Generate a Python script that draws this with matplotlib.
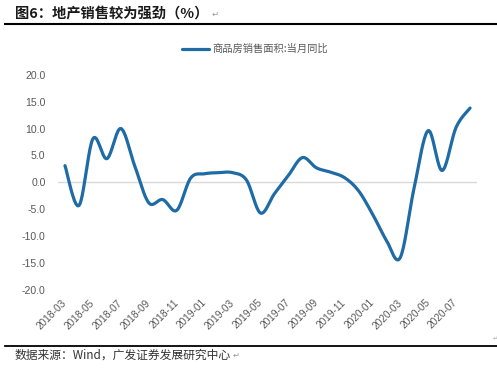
import numpy as np
import pandas as pd
import matplotlib
matplotlib.use("Agg")
import matplotlib.pyplot as plt
from matplotlib.lines import Line2D

plt.rcParams['font.family'] = ['Liberation Sans', 'Noto Sans CJK SC', 'DejaVu Sans']

# ---- data ----
months = [p.strftime('%Y-%m') for p in pd.period_range('2018-03', '2020-08', freq='M')]
values = [3.1, -4.3, 8.1, 4.4, 10.0, 3.0, -3.8, -3.2, -5.2, 0.8,
          1.6, 1.8, 1.8, 0.4, -5.7, -2.1, 1.3, 4.6, 2.7, 1.9, 0.9, -1.5,
          -5.8, -10.7, -14.0, -1.0, 9.6, 2.2, 10.2, 13.8]
series_name = '商品房销售面积:当月同比'
title = '图6：地产销售较为强劲（%）'
source = '数据来源：Wind，广发证券发展研究中心'
yticks = [-20, -15, -10, -5, 0, 5, 10, 15, 20]

W, H = 497, 371
fig = plt.figure(figsize=(W / 100, H / 100), dpi=100)
ax = fig.add_axes([58 / W, 1 - 290 / H, (477 - 58) / W, (290 - 74.7) / H])

# Excel-like smoothed line (Catmull-Rom Bezier through the data points)
x = np.arange(len(values), dtype=float)
y = np.array(values, dtype=float)
xs, ys = [], []
n = len(x)
t = np.linspace(0, 1, 20)
for i in range(n - 1):
    p0 = np.array([x[max(i - 1, 0)], y[max(i - 1, 0)]])
    p1 = np.array([x[i], y[i]])
    p2 = np.array([x[i + 1], y[i + 1]])
    p3 = np.array([x[min(i + 2, n - 1)], y[min(i + 2, n - 1)]])
    b1 = p1 + (p2 - p0) / 6
    b2 = p2 - (p3 - p1) / 6
    pts = ((1 - t) ** 3)[:, None] * p1 + (3 * (1 - t) ** 2 * t)[:, None] * b1 \
        + (3 * (1 - t) * t ** 2)[:, None] * b2 + (t ** 3)[:, None] * p2
    xs.extend(pts[:, 0]); ys.extend(pts[:, 1])

ax.axhline(0, color='#D9D9D9', lw=1.0, zorder=1)
ax.plot(xs, ys, color='#1F6BA6', lw=2.3, solid_capstyle='round', label=series_name, zorder=3)

ax.set_xlim(-0.5, len(values) - 0.5)
ax.set_ylim(-20, 20)
ax.set_yticks(yticks)
ax.set_yticklabels([f'{v:.1f}' for v in yticks], fontsize=7.6, color='#595959')
tick_idx = list(range(0, len(months), 2))
ax.set_xticks(tick_idx)
ax.set_xticklabels([months[i] for i in tick_idx], fontsize=7.3, color='#595959',
                   rotation=45, ha='right', va='center', rotation_mode='anchor')
ax.tick_params(axis='both', length=0)
ax.tick_params(axis='x', pad=8)
ax.tick_params(axis='y', pad=9)
for s in ax.spines.values():
    s.set_visible(False)

leg = ax.legend(loc='center', bbox_to_anchor=(255 / W, 1 - 49 / H),
                bbox_transform=fig.transFigure, frameon=False,
                handlelength=2.6, handletextpad=0.3,
                prop={'family': ['Noto Sans CJK SC', 'DejaVu Sans'], 'size': 7.4})
for txt in leg.get_texts():
    txt.set_color('#595959')

# title and source
t1 = fig.text(15 / W, 1 - 14 / H, title, fontsize=10.3, fontweight='bold',
              family=['Noto Sans CJK SC', 'DejaVu Sans'], va='center', ha='left', color='#1a1a1a')
ax.annotate('↵', xy=(1, 0.45), xycoords=t1, xytext=(2, 0), textcoords='offset points',
            fontsize=6, color='#999999', va='center', ha='left', family='DejaVu Sans',
            annotation_clip=False)
t2 = fig.text(15 / W, 1 - 355 / H, source, fontsize=8.5,
              family=['Noto Sans CJK SC', 'DejaVu Sans'], va='center', ha='left', color='#333333')
ax.annotate('↵', xy=(1, 0.45), xycoords=t2, xytext=(1, 0), textcoords='offset points',
            fontsize=6, color='#999999', va='center', ha='left', family='DejaVu Sans',
            annotation_clip=False)
fig.text(495 / W, 1 - 339 / H, '↵', fontsize=4.5, color='#aaaaaa', ha='center', va='center',
         family='DejaVu Sans')

fig.add_artist(Line2D([5 / W, 497 / W], [1 - 24 / H, 1 - 24 / H], color='black', lw=1.5))
fig.add_artist(Line2D([5 / W, 497 / W], [1 - 346 / H, 1 - 346 / H], color='black', lw=1.3))

fig.savefig('out.png', dpi=100)
